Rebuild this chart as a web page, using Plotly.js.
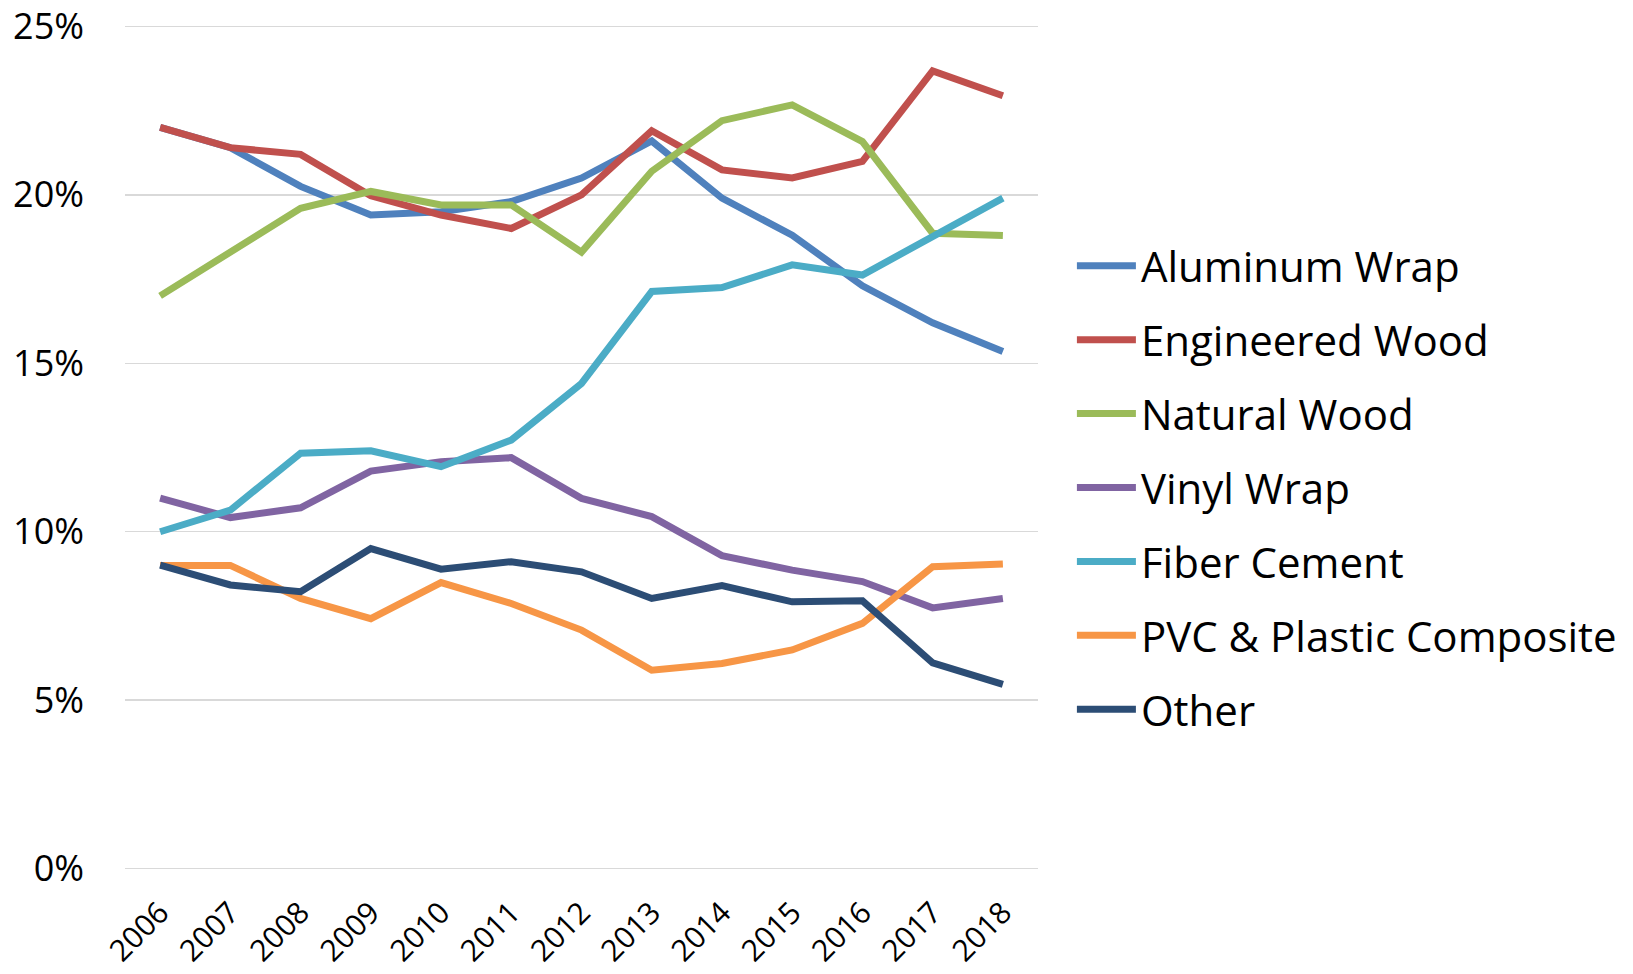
<!DOCTYPE html>
<html>
<head>
<meta charset="utf-8">
<script src="https://cdn.plot.ly/plotly-3.0.1.min.js"></script>
<style>
html,body{margin:0;padding:0;background:#fff;}
#chart{width:1633px;height:974px;}
</style>
</head>
<body>
<div id="chart"></div>
<script>
const years = ['2006','2007','2008','2009','2010','2011','2012','2013','2014','2015','2016','2017','2018'];

const aluminumWrap   = [22.0, 21.4, 20.25, 19.4, 19.5, 19.8, 20.5, 21.6, 19.9, 18.8, 17.3, 16.2, 15.35];
const engineeredWood = [22.0, 21.4, 21.2, 19.97, 19.4, 19.0, 20.0, 21.9, 20.74, 20.5, 20.99, 23.68, 22.94];
const naturalWood    = [17.0, 18.27, 19.6, 20.1, 19.7, 19.7, 18.3, 20.7, 22.2, 22.67, 21.58, 18.86, 18.79];
const vinylWrap      = [11.0, 10.42, 10.71, 11.8, 12.08, 12.2, 10.99, 10.45, 9.29, 8.86, 8.52, 7.74, 8.02];
const fiberCement    = [10.0, 10.64, 12.33, 12.4, 11.93, 12.72, 14.4, 17.13, 17.25, 17.92, 17.62, 18.76, 19.9];
const pvcComposite   = [9.0, 9.0, 8.02, 7.42, 8.49, 7.87, 7.08, 5.89, 6.09, 6.49, 7.28, 8.96, 9.04];
const other          = [9.01, 8.42, 8.22, 9.5, 8.89, 9.11, 8.81, 8.02, 8.40, 7.92, 7.95, 6.11, 5.47];

const seriesNames  = ['Aluminum Wrap','Engineered Wood','Natural Wood','Vinyl Wrap','Fiber Cement','PVC & Plastic Composite','Other'];
const seriesValues = [aluminumWrap, engineeredWood, naturalWood, vinylWrap, fiberCement, pvcComposite, other];
const seriesColors = ['#4F81BD','#C0504D','#9BBB59','#8064A2','#4BACC6','#F79646','#2C4D75'];

const yTickVals  = [0, 5, 10, 15, 20, 25];
const yTickTexts = ['0%', '5%', '10%', '15%', '20%', '25%'];

const traces = seriesNames.map((name, i) => ({
  type: 'scatter',
  mode: 'lines',
  name: name,
  x: years,
  y: seriesValues[i],
  legendgroup: 'g' + i,
  line: {color: seriesColors[i], width: 7},
  hoverinfo: 'skip'
}));

const font = "'Open Sans', 'Noto Sans', sans-serif";

const layout = {
  width: 1633,
  height: 974,
  paper_bgcolor: '#ffffff',
  plot_bgcolor: '#ffffff',
  margin: {l: 125, r: 594, t: 23.1, b: 102.4},
  showlegend: true,
  font: {family: font, color: '#000000'},
  xaxis: {
    type: 'category',
    range: [-0.5, 12.5],
    showgrid: false,
    zeroline: false,
    showline: false,
    ticks: '',
    tickangle: -45,
    tickfont: {family: font, size: 30, color: '#000000'},
    ticklabelstandoff: 16,
    fixedrange: true
  },
  yaxis: {
    range: [-0.1, 25.1],
    tickmode: 'array',
    tickvals: yTickVals,
    ticktext: yTickTexts,
    showgrid: true,
    gridcolor: '#D9D9D9',
    gridwidth: 1.5,
    zeroline: false,
    showline: false,
    ticks: '',
    tickfont: {family: font, size: 36, color: '#000000'},
    ticklabelstandoff: 40,
    ticklabeloverflow: 'allow',
    fixedrange: true
  },
  legend: {
    x: 1.036,
    xanchor: 'left',
    y: 0.7538,
    yanchor: 'top',
    itemwidth: 59,
    font: {family: font, size: 42, color: '#000000'},
    tracegroupgap: 16.3,
    bgcolor: 'rgba(0,0,0,0)',
    borderwidth: 0
  }
};

Plotly.newPlot('chart', traces, layout, {displayModeBar: false, staticPlot: true});
</script>
</body>
</html>
